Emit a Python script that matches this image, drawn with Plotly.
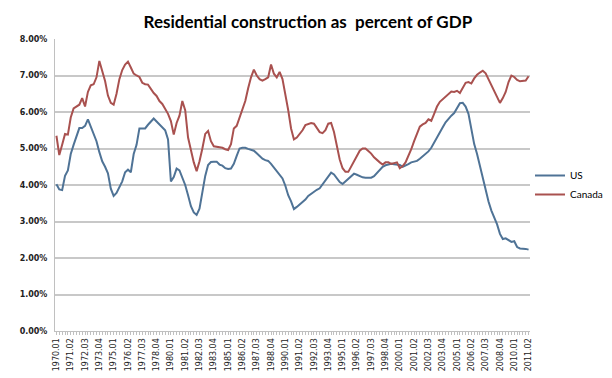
import plotly.graph_objects as go

quarters = [f"{y}.{q:02d}" for y in range(1970, 2012) for q in range(1, 5)][:166]

us = [4.02, 3.88, 3.86, 4.25, 4.40, 4.85, 5.10, 5.32, 5.56, 5.56,
      5.62, 5.80, 5.60, 5.45, 5.20, 4.90, 4.65, 4.50, 4.32, 3.90,
      3.70, 3.78, 3.92, 4.10, 4.35, 4.42, 4.35, 4.85, 5.10, 5.55,
      5.55, 5.55, 5.65, 5.75, 5.82, 5.74, 5.66, 5.60, 5.50, 5.25,
      4.10, 4.22, 4.45, 4.40, 4.20, 4.00, 3.72, 3.42, 3.25, 3.18,
      3.35, 3.85, 4.25, 4.55, 4.63, 4.64, 4.64, 4.56, 4.53, 4.46,
      4.44, 4.45, 4.58, 4.80, 5.00, 5.02, 5.02, 4.99, 4.96, 4.94,
      4.87, 4.80, 4.72, 4.68, 4.66, 4.58, 4.48, 4.38, 4.28, 4.18,
      3.98, 3.72, 3.55, 3.34, 3.40, 3.47, 3.53, 3.60, 3.70, 3.76,
      3.80, 3.87, 3.91, 4.02, 4.13, 4.24, 4.34, 4.29, 4.18, 4.08,
      4.03, 4.10, 4.18, 4.24, 4.31, 4.28, 4.24, 4.21, 4.20, 4.20,
      4.20, 4.24, 4.33, 4.42, 4.50, 4.54, 4.56, 4.58, 4.57, 4.56,
      4.55, 4.50, 4.53, 4.57, 4.62, 4.65, 4.66, 4.72, 4.79, 4.86,
      4.92, 5.02, 5.15, 5.30, 5.42, 5.58, 5.72, 5.82, 5.90, 5.97,
      6.12, 6.24, 6.25, 6.15, 5.95, 5.50, 5.12, 4.85, 4.52, 4.18,
      3.80, 3.55, 3.30, 3.10, 2.92, 2.66, 2.52, 2.54, 2.48, 2.44,
      2.46, 2.30, 2.26, 2.26, 2.25, 2.23]

canada = [5.35, 4.82, 5.10, 5.40, 5.38, 5.85, 6.10, 6.14, 6.20, 6.38,
          6.15, 6.55, 6.73, 6.76, 6.95, 7.40, 7.15, 6.85, 6.45, 6.25,
          6.20, 6.50, 6.90, 7.15, 7.30, 7.38, 7.22, 7.05, 7.00, 6.96,
          6.80, 6.76, 6.75, 6.62, 6.52, 6.44, 6.30, 6.22, 6.10, 5.95,
          5.75, 5.38, 5.70, 5.90, 6.30, 6.05, 5.30, 4.95, 4.62, 4.38,
          4.65, 5.00, 5.40, 5.48, 5.20, 5.06, 5.05, 5.04, 5.02, 4.98,
          4.96, 5.12, 5.55, 5.62, 5.85, 6.10, 6.30, 6.65, 6.95, 7.16,
          7.00, 6.90, 6.86, 6.90, 6.95, 7.30, 7.05, 6.95, 7.10, 6.90,
          6.50, 6.05, 5.55, 5.25, 5.30, 5.40, 5.50, 5.64, 5.68, 5.70,
          5.68, 5.55, 5.45, 5.42, 5.50, 5.68, 5.70, 5.45, 5.10, 4.70,
          4.46, 4.36, 4.36, 4.50, 4.68, 4.78, 4.94, 5.00, 5.00, 4.93,
          4.86, 4.76, 4.68, 4.62, 4.56, 4.62, 4.62, 4.58, 4.60, 4.62,
          4.46, 4.52, 4.62, 4.78, 4.98, 5.20, 5.38, 5.60, 5.66, 5.70,
          5.80, 5.76, 5.95, 6.15, 6.28, 6.35, 6.42, 6.48, 6.56, 6.55,
          6.58, 6.52, 6.68, 6.80, 6.82, 6.78, 6.92, 7.02, 7.08, 7.13,
          7.06, 6.90, 6.75, 6.58, 6.40, 6.25, 6.38, 6.55, 6.82, 7.00,
          6.96, 6.88, 6.84, 6.85, 6.86, 6.98]

y_ticks = [0, 1, 2, 3, 4, 5, 6, 7, 8]
y_tick_labels = [f"{v:.2f}%" for v in y_ticks]
x_tick_labels = quarters[::5]

fig = go.Figure()
fig.add_trace(go.Scatter(x=quarters, y=us, mode="lines", name="US",
                         line=dict(color="#4f7396", width=2)))
fig.add_trace(go.Scatter(x=quarters, y=canada, mode="lines", name="Canada",
                         line=dict(color="#a9514f", width=2)))

fig.update_layout(
    width=612, height=378,
    margin=dict(l=45, r=66, t=31, b=55),
    paper_bgcolor="white", plot_bgcolor="white",
    title=dict(text="<b>Residential construction as  percent of GDP</b>",
               x=0.49, xanchor="center", y=0.962, yanchor="middle",
               font=dict(family="Lato", size=17, color="black")),
    showlegend=True,
    legend=dict(x=1.0, xanchor="left", y=0.50, yanchor="middle",
                font=dict(family="Lato", size=10, color="black"),
                bgcolor="rgba(0,0,0,0)", tracegroupgap=0,
                itemwidth=30),
    font=dict(family="DejaVu Sans", size=8, color="#222"),
)
fig.update_xaxes(
    type="category", categoryorder="array", categoryarray=quarters,
    range=[-0.5, len(quarters) - 0.5],
    tickmode="array", tickvals=x_tick_labels, ticktext=x_tick_labels,
    tickangle=-90, tickfont=dict(family="DejaVu Sans", size=8, color="#222"),
    showline=True, linecolor="#c0c0c0", linewidth=1,
    ticks="outside", ticklen=3, tickcolor="#c0c0c0",
    minor=dict(ticks="outside", ticklen=3, tickcolor="#c0c0c0", dtick=1, showgrid=False),
    showgrid=False, zeroline=False,
)
fig.update_yaxes(
    range=[0, 8], tickmode="array", tickvals=y_ticks, ticktext=y_tick_labels,
    tickfont=dict(family="DejaVu Sans", size=8, color="#222", weight="bold"),
    ticklabelstandoff=5,
    showgrid=True, gridcolor="#c8c8c8", gridwidth=1.5,
    showline=True, linecolor="#c0c0c0", linewidth=1,
    zeroline=False, ticks="", ticklen=0,
)

fig.write_html("out.html")
